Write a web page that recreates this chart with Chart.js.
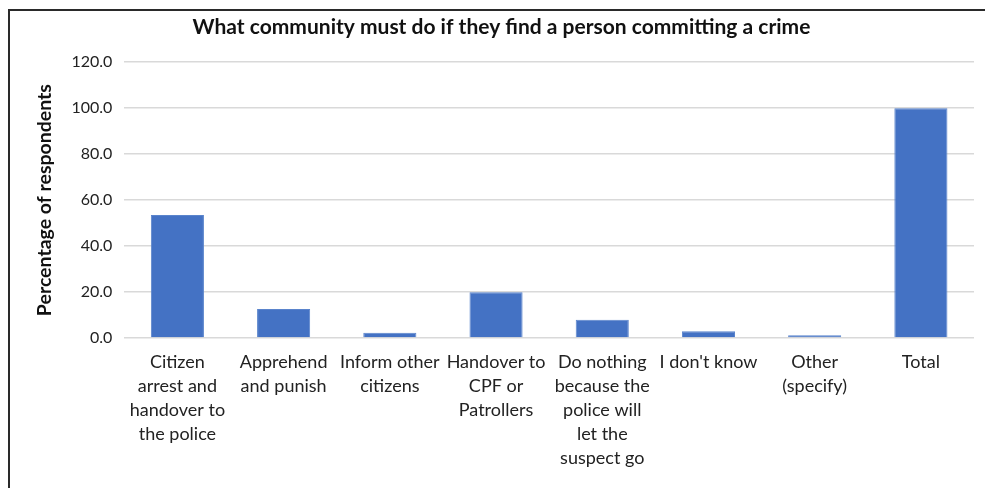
<!DOCTYPE html>
<html>
<head>
<meta charset="utf-8">
<script src="https://cdn.jsdelivr.net/npm/chart.js@4"></script>
<style>
  body { margin: 0; background: #fff; overflow: hidden; }
  #wrap { position: absolute; left: 0; top: 0; width: 985px; height: 488px; }
  #frame { position: absolute; left: 8px; top: 9px; width: 1000px; height: 500px;
           border: 2px solid #2a2a2a; pointer-events: none; }
</style>
</head>
<body>
<div id="wrap"><canvas id="chart" width="985" height="488"></canvas></div>
<div id="frame"></div>
<script>
const categories = [
  ['Citizen', 'arrest and', 'handover to', 'the police'],
  ['Apprehend', 'and punish'],
  ['Inform other', 'citizens'],
  ['Handover to', 'CPF or', 'Patrollers'],
  ['Do nothing', 'because the', 'police will', 'let the', 'suspect go'],
  ["I don't know"],
  ['Other', '(specify)'],
  ['Total']
];
const percentages = [53.5, 12.6, 2.3, 19.9, 8.0, 3.0, 1.2, 100.0];
const yTicks = [0, 20, 40, 60, 80, 100, 120];

const font = "Lato, 'Open Sans', sans-serif";

new Chart(document.getElementById('chart').getContext('2d'), {
  type: 'bar',
  data: {
    labels: categories,
    datasets: [{
      data: percentages,
      backgroundColor: '#4472C4',
      borderColor: '#5a84cc',
      borderWidth: 1,
      categoryPercentage: 1.0,
      barPercentage: 0.5
    }]
  },
  options: {
    responsive: false,
    animation: false,
    layout: { padding: { left: 29, right: 11, top: 6, bottom: 14 } },
    plugins: {
      legend: { display: false },
      tooltip: { enabled: false },
      title: {
        display: true,
        text: 'What community must do if they find a person committing a crime',
        color: '#111',
        font: { family: font, size: 21, weight: 'bold' },
        padding: { top: 9, bottom: 22 }
      }
    },
    scales: {
      x: {
        grid: { display: false },
        border: { display: false },
        ticks: {
          color: '#222',
          font: { family: font, size: 18, lineHeight: 1.333 },
          maxRotation: 0,
          autoSkip: false,
          padding: 4
        }
      },
      y: {
        min: 0,
        max: 120,
        afterBuildTicks: axis => { axis.ticks = yTicks.map(v => ({ value: v })); },
        grid: { color: '#d9d9d9', lineWidth: 1.5, drawTicks: false },
        border: { display: false },
        ticks: {
          color: '#222',
          font: { family: font, size: 16 },
          padding: 12,
          callback: v => v.toFixed(1)
        },
        title: {
          display: true,
          text: 'Percentage of respondents',
          color: '#111',
          font: { family: font, size: 19.5, weight: 'bold' },
          padding: { bottom: 3 }
        }
      }
    }
  }
});
</script>
</body>
</html>
